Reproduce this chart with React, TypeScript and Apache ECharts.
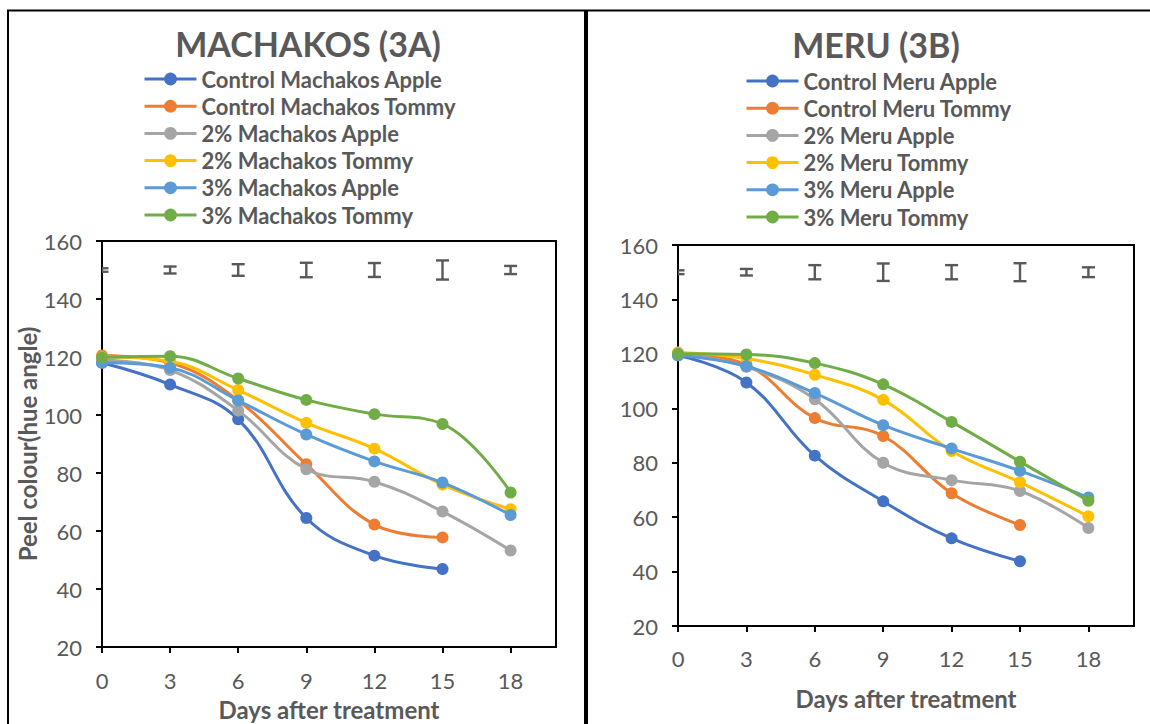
import React, { useEffect, useRef } from 'react';
import * as echarts from 'echarts';

// Sampling days after treatment
const days = [0, 3, 6, 9, 12, 15, 18];
const dayTicks = [0, 3, 6, 9, 12, 15, 18];

// Peel colour (hue angle) – Machakos
const machakosNames = [
  'Control Machakos Apple',
  'Control Machakos Tommy',
  '2% Machakos Apple',
  '2% Machakos Tommy',
  '3% Machakos Apple',
  '3% Machakos Tommy',
];
const machakosControlApple = [118, 110.5, 98.5, 64.5, 51.5, 46.9];
const machakosControlTommy = [120.5, 118, 105, 83, 62.2, 57.8];
const machakos2Apple = [119, 115.5, 101.5, 81.3, 77, 66.7, 53.3];
const machakos2Tommy = [120, 118.5, 108.6, 97.3, 88.4, 76, 67.5];
const machakos3Apple = [118, 116.3, 105, 93.3, 84, 76.7, 65.5];
const machakos3Tommy = [119.8, 120.3, 112.6, 105.2, 100.3, 96.9, 73.3];
// LSD bars (half length) per sampling day
const machakosLsd = [0.6, 1.2, 2.0, 2.5, 2.4, 3.3, 1.4];

// Peel colour (hue angle) – Meru
const meruNames = [
  'Control Meru Apple',
  'Control Meru Tommy',
  '2% Meru Apple',
  '2% Meru Tommy',
  '3% Meru Apple',
  '3% Meru Tommy',
];
const meruControlApple = [119.5, 109.5, 82.6, 65.8, 52.2, 43.8];
const meruControlTommy = [120, 116, 96.4, 89.8, 68.8, 57.1];
const meru2Apple = [120, 115.2, 103.3, 80, 73.6, 69.6, 56];
const meru2Tommy = [120.5, 118.3, 112.3, 103.1, 84.3, 72.8, 60.3];
const meru3Apple = [119.5, 115.5, 105.6, 93.8, 85.2, 77, 67.2];
const meru3Tommy = [120, 119.8, 116.6, 108.8, 95, 80.4, 66];
const meruLsd = [0.7, 1.2, 2.6, 3.2, 2.6, 3.3, 1.8];

const lsdLevel = 150;

const colors = ['#4472C4', '#ED7D31', '#A5A5A5', '#FFC000', '#5B9BD5', '#70AD47'];

const FONT = 'Lato';
const TEXT = '#595959';

const machakosValues = [
  machakosControlApple,
  machakosControlTommy,
  machakos2Apple,
  machakos2Tommy,
  machakos3Apple,
  machakos3Tommy,
];
const meruValues = [meruControlApple, meruControlTommy, meru2Apple, meru2Tommy, meru3Apple, meru3Tommy];

function lineSeries(names: string[], values: number[][], idx: number) {
  return names.map((name, i) => ({
    type: 'line',
    name,
    xAxisIndex: idx,
    yAxisIndex: idx,
    data: values[i].map((v, j) => [days[j], v]),
    smooth: 0.4,
    symbol: 'circle',
    symbolSize: 12,
    showSymbol: true,
    lineStyle: { color: colors[i], width: 3 },
    itemStyle: { color: colors[i] },
    z: 3 + i,
  }));
}

function lsdSeries(lsd: number[], idx: number) {
  return {
    type: 'custom',
    name: 'LSD',
    xAxisIndex: idx,
    yAxisIndex: idx,
    clip: true,
    z: 2,
    data: lsd.map((e, j) => [days[j], lsdLevel, e]),
    renderItem: (_params: any, api: any) => {
      const x = api.value(0);
      const c = api.value(1);
      const e = api.value(2);
      const top = api.coord([x, c + e]);
      const bot = api.coord([x, c - e]);
      const hw = 6.5;
      const style = { stroke: TEXT, lineWidth: 2.4, fill: null };
      return {
        type: 'group',
        children: [
          { type: 'line', shape: { x1: top[0], y1: top[1], x2: bot[0], y2: bot[1] }, style },
          { type: 'line', shape: { x1: top[0] - hw, y1: top[1], x2: top[0] + hw, y2: top[1] }, style },
          { type: 'line', shape: { x1: bot[0] - hw, y1: bot[1], x2: bot[0] + hw, y2: bot[1] }, style },
        ],
      };
    },
  };
}

function xAxis(idx: number, nameGap: number, labelMargin: number) {
  return {
    type: 'value',
    gridIndex: idx,
    min: 0,
    max: 20,
    interval: 3,
    name: 'Days after treatment',
    nameLocation: 'middle',
    nameGap,
    nameTextStyle: { fontFamily: FONT, fontSize: 24, fontWeight: 'bold', color: TEXT },
    axisLine: { show: true, onZero: false, lineStyle: { color: '#000', width: 2 } },
    axisTick: { show: true, length: 6, inside: false, customValues: dayTicks, lineStyle: { color: '#000', width: 2 } },
    axisLabel: { customValues: dayTicks, margin: labelMargin, fontFamily: FONT, fontSize: 22, color: TEXT },
    splitLine: { show: false },
  };
}

function yAxis(idx: number, name: string) {
  return {
    type: 'value',
    gridIndex: idx,
    min: 20,
    max: 160,
    interval: 20,
    name,
    nameLocation: 'middle',
    nameRotate: 90,
    nameGap: 56,
    nameTextStyle: { fontFamily: FONT, fontSize: 24, fontWeight: 'bold', color: TEXT },
    axisLine: { show: true, lineStyle: { color: '#000', width: 2 } },
    axisTick: { show: true, length: 6, inside: false, lineStyle: { color: '#000', width: 2 } },
    axisLabel: { margin: 20, fontFamily: FONT, fontSize: 22, color: TEXT },
    splitLine: { show: false },
  };
}

function legend(names: string[], left: number, top: number) {
  return {
    orient: 'vertical',
    left,
    top,
    padding: 0,
    data: names,
    itemWidth: 52,
    itemHeight: 16,
    itemGap: 5.2,
    lineStyle: { width: 3 },
    textStyle: { fontFamily: FONT, fontSize: 22, fontWeight: 'bold', color: TEXT, lineHeight: 22 },
    selectedMode: false,
  };
}

export default function App() {
  const ref = useRef<HTMLDivElement>(null);

  useEffect(() => {
    if (!ref.current) return;
    const chart = echarts.init(ref.current, null, { renderer: 'svg' });
    const frame = { stroke: '#000', lineWidth: 2 };
    chart.setOption({
      animation: false,
      backgroundColor: '#fff',
      title: [
        {
          text: 'MACHAKOS (3A)',
          left: 308,
          top: 26,
          padding: 0,
          textAlign: 'center',
          textStyle: { fontFamily: FONT, fontSize: 34, fontWeight: 'bold', color: TEXT },
        },
        {
          text: 'MERU (3B)',
          left: 876,
          top: 27,
          padding: 0,
          textAlign: 'center',
          textStyle: { fontFamily: FONT, fontSize: 34, fontWeight: 'bold', color: TEXT },
        },
      ],
      legend: [legend(machakosNames, 143, 68), legend(meruNames, 745, 70)],
      grid: [
        { left: 102, top: 241, width: 454, height: 406, show: true, borderColor: '#000', borderWidth: 2, backgroundColor: 'transparent', outerBoundsMode: 'none' },
        { left: 678, top: 245, width: 456, height: 381, show: true, borderColor: '#000', borderWidth: 2, backgroundColor: 'transparent', outerBoundsMode: 'none' },
      ],
      xAxis: [xAxis(0, 50, 22), xAxis(1, 60, 21)],
      yAxis: [yAxis(0, 'Peel colour(hue angle)'), yAxis(1, '')],
      series: [
        lsdSeries(machakosLsd, 0),
        ...lineSeries(machakosNames, machakosValues, 0),
        lsdSeries(meruLsd, 1),
        ...lineSeries(meruNames, meruValues, 1),
      ],
      graphic: [
        { type: 'line', shape: { x1: 8, y1: 10, x2: 8, y2: 724 }, style: frame, silent: true },
        { type: 'line', shape: { x1: 7, y1: 10.5, x2: 1150, y2: 10.5 }, style: frame, silent: true },
        { type: 'line', shape: { x1: 586, y1: 10, x2: 586, y2: 724 }, style: { stroke: '#000', lineWidth: 4 }, silent: true },
      ],
    });
    return () => chart.dispose();
  }, []);

  return (
    <div
      ref={ref}
      style={{ position: 'absolute', left: 0, top: 0, width: 1150, height: 724, background: '#fff' }}
    />
  );
}
